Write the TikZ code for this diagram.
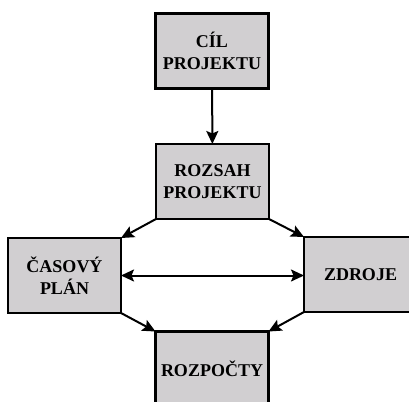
\documentclass[tikz,border=0pt]{standalone}
\usepackage{fontspec}
\setmainfont{Liberation Serif}
\usetikzlibrary{arrows.meta}
\definecolor{boxgray}{RGB}{209,207,209}

\begin{document}
\begin{tikzpicture}[x=1pt, y=-1pt,
                    box/.style={draw, line width=2.2pt, fill=boxgray,
                                minimum width=113pt, minimum height=75pt,
                                align=center, inner sep=0pt, outer sep=0pt,
                                font=\fontsize{18}{22}\selectfont\bfseries},
                    link/.style={line width=2pt, -{Stealth[length=13pt,width=12pt,inset=2.5pt]}}]
  \clip (0,0) rectangle (409,401);
  \node[box] (cil)      at (212,51)    {CÍL\\PROJEKTU};
  \node[box] (rozsah)   at (212.5,181.5) {ROZSAH\\PROJEKTU};
  \node[box] (casovy)   at (64.5,275.5) {ČASOVÝ\\PLÁN};
  \node[box] (zdroje)   at (360.5,274.5) {ZDROJE};
  \node[box] (rozpocty) at (212,369)   {ROZPOČTY};
  \draw[link] (cil) -- (rozsah);
  \draw[link] (rozsah.south west) -- (casovy.north east);
  \draw[link] (rozsah.south east) -- (zdroje.north west);
  \draw[link, {Stealth[length=13pt,width=12pt,inset=2.5pt]}-{Stealth[length=13pt,width=12pt,inset=2.5pt]}]
    (casovy.east) -- (casovy.east -| zdroje.west);
  \draw[link] (casovy.south east) -- (rozpocty.north west);
  \draw[link] (zdroje.south west) -- (rozpocty.north east);
\end{tikzpicture}
\end{document}
